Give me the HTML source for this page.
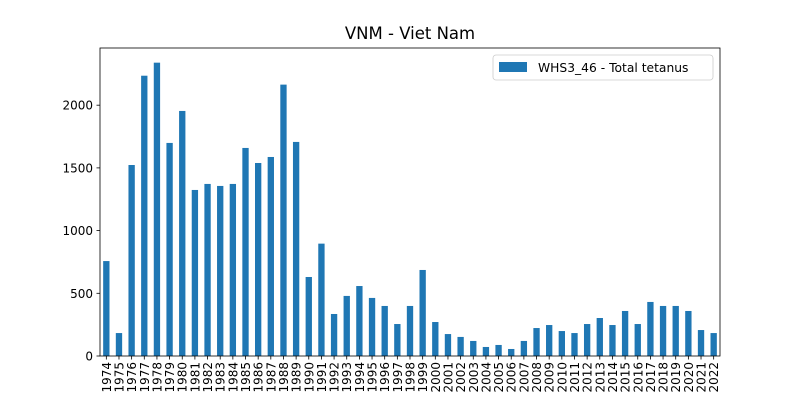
<!DOCTYPE html>
<html><head><meta charset="utf-8"><style>
body{margin:0;background:#fff;}
svg text{font-family:"DejaVu Sans","Liberation Sans",sans-serif;}
</style></head><body>
<svg id="chart" width="800" height="400"></svg>
<script>
const years=[1974,1975,1976,1977,1978,1979,1980,1981,1982,1983,1984,1985,1986,1987,1988,1989,1990,1991,1992,1993,1994,1995,1996,1997,1998,1999,2000,2001,2002,2003,2004,2005,2006,2007,2008,2009,2010,2011,2012,2013,2014,2015,2016,2017,2018,2019,2020,2021,2022];
const values=[757,183,1523,2235,2339,1699,1954,1324,1372,1356,1372,1659,1539,1587,2164,1707,630,896,335,479,558,463,399,255,399,686,271,175,152,120,72,88,56,120,223,247,199,183,255,303,247,359,255,431,399,399,359,207,183];
const yTicks=[0,500,1000,1500,2000];
const NS="http://www.w3.org/2000/svg";
const svg=document.getElementById('chart');
const L=100,R=720,T=48,B=356,yMax=2456;
const step=(R-L)/years.length;
const xPos=i=>L+step*(i+0.5);
const yPos=v=>B-(v/yMax)*(B-T);
function mk(tag,attrs){const e=document.createElementNS(NS,tag);for(const k in attrs)e.setAttribute(k,attrs[k]);svg.appendChild(e);return e;}
values.forEach((v,i)=>{
  const r=mk('rect',{x:xPos(i)-step*0.25,y:yPos(v),width:step*0.5,height:B-yPos(v),fill:'#1f77b4'});
  
  
});
years.forEach((y,i)=>{
  const t=mk('line',{x1:xPos(i),x2:xPos(i),y1:B,y2:B+3.5,stroke:'#000','stroke-width':0.8});
  
  
  const tx=mk('text',{x:0,y:0,'font-size':12,'text-anchor':'end',transform:`translate(${xPos(i)+4.5},${B+6}) rotate(-90)`});
  tx.textContent=y;
  
  
});
yTicks.forEach(v=>{
  const t=mk('line',{x1:L-3.5,x2:L,y1:yPos(v),y2:yPos(v),stroke:'#000','stroke-width':0.8});
  
  
  const tx=mk('text',{x:L-7,y:yPos(v)+4.5,'font-size':12,'text-anchor':'end'});
  tx.textContent=v;
  
  
});
const frame=mk('rect',{x:L,y:T,width:R-L,height:B-T,fill:'none',stroke:'#000','stroke-width':0.8});


const title=mk('text',{x:410,y:39,'font-size':16.5,'text-anchor':'middle'});
title.textContent='VNM - Viet Nam';


const lg=mk('rect',{x:493,y:55,width:220,height:25,rx:3,fill:'#fff',stroke:'#ccc','stroke-width':0.8});


const sw=mk('rect',{x:499,y:62,width:28,height:10,fill:'#1f77b4'});


const lt=mk('text',{x:538,y:72,'font-size':12.3});
lt.textContent='WHS3_46 - Total tetanus';


</script>
</body></html>
